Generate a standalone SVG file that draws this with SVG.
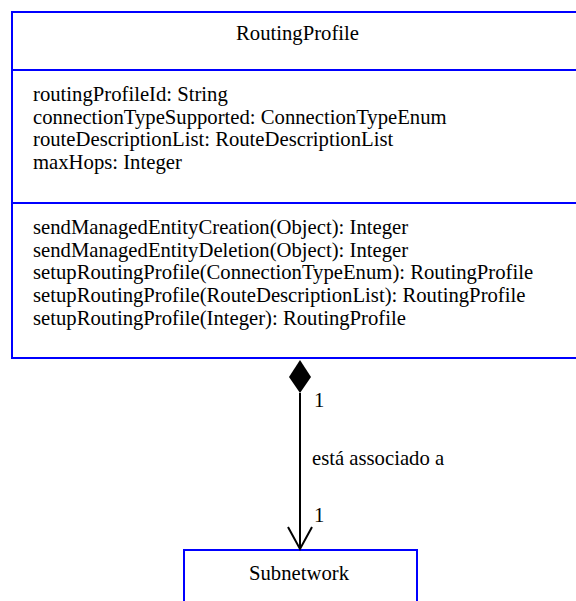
<svg xmlns="http://www.w3.org/2000/svg" width="576" height="601" viewBox="0 0 576 601">
  <style>
    .box { fill: #ffffff; stroke: #0000ff; stroke-width: 2; }
    .sep { stroke: #0000ff; stroke-width: 2; }
    .txt { font-family: "Liberation Serif", "Times New Roman", serif; font-size: 20.7px; fill: #000000; }
    .mid { text-anchor: middle; }
    .edge { stroke: #000000; stroke-width: 2; fill: none; }
  </style>
  <rect width="576" height="601" fill="#ffffff"/>

  <g id="RoutingProfile">
    <rect class="box" x="12" y="12" width="580" height="346"/>
    <line class="sep" x1="12" y1="70" x2="576" y2="70"/>
    <line class="sep" x1="12" y1="203" x2="576" y2="203"/>
    <text class="txt mid" x="297.5" y="40">RoutingProfile</text>
    <text class="txt" x="33" y="101">routingProfileId: String</text>
    <text class="txt" x="33" y="123.5">connectionTypeSupported: ConnectionTypeEnum</text>
    <text class="txt" x="33" y="146">routeDescriptionList: RouteDescriptionList</text>
    <text class="txt" x="33" y="168.5">maxHops: Integer</text>
    <text class="txt" x="33" y="234">sendManagedEntityCreation(Object): Integer</text>
    <text class="txt" x="33" y="256.7">sendManagedEntityDeletion(Object): Integer</text>
    <text class="txt" x="33" y="279.3">setupRoutingProfile(ConnectionTypeEnum): RoutingProfile</text>
    <text class="txt" x="33" y="302">setupRoutingProfile(RouteDescriptionList): RoutingProfile</text>
    <text class="txt" x="33" y="324.7">setupRoutingProfile(Integer): RoutingProfile</text>
  </g>

  <g id="Subnetwork">
    <rect class="box" x="184" y="550" width="233" height="60"/>
    <text class="txt mid" x="299" y="580">Subnetwork</text>
  </g>

  <g id="connectors">
    <line class="edge" x1="300" y1="393" x2="300" y2="549"/>
    <polygon points="300,360 311,377 300,393 289,377" fill="#000000"/>
    <polyline class="edge" points="288,527 300,549 312,527"/>
    <text class="txt" x="314" y="407">1</text>
    <text class="txt" x="312" y="465">está associado a</text>
    <text class="txt" x="314" y="522">1</text>
  </g>
</svg>
